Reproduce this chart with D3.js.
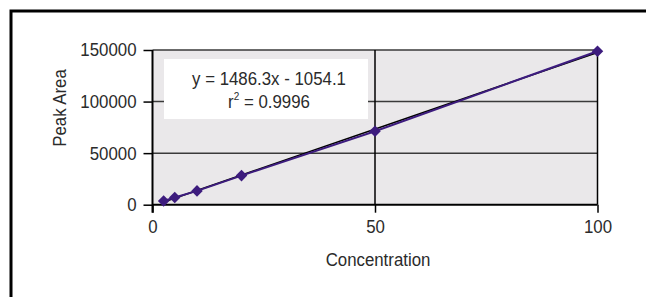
<!DOCTYPE html>
<html>
<head>
<meta charset="utf-8">
<script src="https://cdn.jsdelivr.net/npm/d3@7"></script>
<style>
  html, body { margin: 0; padding: 0; background: #fff; }
  svg text { font-family: "Liberation Sans", Arial, sans-serif; fill: #2b2b2b; }
</style>
</head>
<body>
<div id="chart"></div>
<script>
// data
const concentration = [2.5, 5, 10, 20, 50, 100];
const peakArea = [3600, 7000, 13400, 28200, 71200, 148800];
const fitSlope = 1486.3;
const fitIntercept = -1054.1;
const rSquared = 0.9996;
const xTicks = [0, 50, 100];
const yTicks = [0, 50000, 100000, 150000];

const width = 646, height = 297;
const plot = { left: 152.5, right: 597.5, top: 50, bottom: 204.7 };
const purple = '#3d1c7e';
const squeeze = 0.91; // narrow face look

const svg = d3.select('#chart').append('svg')
  .attr('width', width)
  .attr('height', height);

// squeeze text horizontally, keeping its anchor point in place
function condense(sel) {
  sel.each(function () {
    const t = d3.select(this);
    const x0 = +(t.attr('x') || 0);
    t.attr('x', x0 / squeeze)
      .attr('font-size', 18.5)
      .attr('transform', (t.attr('transform') || '') + ' scale(' + squeeze + ',1)');
  });
}

// outer frame (cut off at right and bottom)
svg.append('path')
  .attr('d', 'M11,' + height + ' V11 H' + width)
  .attr('fill', 'none')
  .attr('stroke', '#000')
  .attr('stroke-width', 3);

const x = d3.scaleLinear().domain([0, 100]).range([plot.left, plot.right]);
const y = d3.scaleLinear().domain([0, 150000]).range([plot.bottom, plot.top]);

// plot background
svg.append('rect')
  .attr('x', x(0)).attr('y', y(150000))
  .attr('width', x(100) - x(0)).attr('height', y(0) - y(150000))
  .attr('fill', '#eae8ea');

// horizontal gridlines
svg.append('g').selectAll('line')
  .data(yTicks.filter(d => d > 0))
  .join('line')
  .attr('x1', x(0)).attr('x2', x(100))
  .attr('y1', d => y(d)).attr('y2', d => y(d))
  .attr('stroke', '#3a3a3a')
  .attr('stroke-width', 1.5);

// vertical gridlines
svg.append('g').selectAll('line')
  .data(xTicks.filter(d => d > 0))
  .join('line')
  .attr('x1', d => x(d)).attr('x2', d => x(d))
  .attr('y1', y(150000)).attr('y2', y(0))
  .attr('stroke', '#000')
  .attr('stroke-width', 1.5);

// axes
const xAxis = d3.axisBottom(x).tickValues(xTicks).tickSize(8).tickPadding(6).tickFormat(d3.format('d'));
const yAxis = d3.axisLeft(y).tickValues(yTicks).tickSize(9).tickPadding(7).tickFormat(d3.format('d'));

const gx = svg.append('g')
  .attr('transform', 'translate(0,' + y(0) + ')')
  .call(xAxis);
const gy = svg.append('g')
  .attr('transform', 'translate(' + x(0) + ',0)')
  .call(yAxis);

[gx, gy].forEach(g => {
  g.select('.domain').remove();
  g.selectAll('.tick line').attr('stroke', '#000').attr('stroke-width', 1.5);
  g.selectAll('.tick text').attr('fill', '#2b2b2b').attr('font-family', null);
  condense(g.selectAll('.tick text'));
});
gx.selectAll('.tick text').attr('dy', '0.75em');

// axis lines
svg.append('line')
  .attr('x1', x(0)).attr('x2', x(100))
  .attr('y1', y(0)).attr('y2', y(0))
  .attr('stroke', '#000').attr('stroke-width', 2);
svg.append('line')
  .attr('x1', x(0)).attr('x2', x(0))
  .attr('y1', y(150000)).attr('y2', y(0) + 8)
  .attr('stroke', '#000').attr('stroke-width', 2);

// axis titles
svg.append('text')
  .attr('x', (x(0) + x(100)) / 2 + 3)
  .attr('y', 266)
  .attr('text-anchor', 'middle')
  .text('Concentration')
  .call(condense);

svg.append('text')
  .attr('transform', 'translate(66,108) rotate(-90)')
  .attr('text-anchor', 'middle')
  .text('Peak Area')
  .call(condense);

// trendline
const xExt = d3.extent(concentration);
svg.append('line')
  .attr('x1', x(xExt[0])).attr('y1', y(fitSlope * xExt[0] + fitIntercept))
  .attr('x2', x(xExt[1])).attr('y2', y(fitSlope * xExt[1] + fitIntercept))
  .attr('stroke', '#000')
  .attr('stroke-width', 1.5);

// data series
const pts = concentration.map((c, i) => [c, peakArea[i]]);
svg.append('path')
  .datum(pts)
  .attr('d', d3.line().x(d => x(d[0])).y(d => y(d[1])))
  .attr('fill', 'none')
  .attr('stroke', purple)
  .attr('stroke-width', 2);

svg.append('g').selectAll('path')
  .data(pts)
  .join('path')
  .attr('transform', d => 'translate(' + x(d[0]) + ',' + y(d[1]) + ')')
  .attr('d', d3.symbol().type(d3.symbolDiamond2).size(85))
  .attr('fill', purple);

// equation label
const box = svg.append('g');
box.append('rect')
  .attr('x', 164).attr('y', 59)
  .attr('width', 204).attr('height', 60)
  .attr('fill', '#fff');
box.append('text')
  .attr('x', 269).attr('y', 85)
  .attr('text-anchor', 'middle')
  .text('y = ' + fitSlope + 'x - ' + Math.abs(fitIntercept))
  .call(condense);
const r2 = box.append('text')
  .attr('x', 269).attr('y', 108)
  .attr('text-anchor', 'middle');
r2.append('tspan').text('r');
r2.append('tspan').attr('font-size', 11).attr('dy', -8).text('2');
r2.append('tspan').attr('dy', 8).text(' = ' + rSquared);
r2.call(condense);
</script>
</body>
</html>
